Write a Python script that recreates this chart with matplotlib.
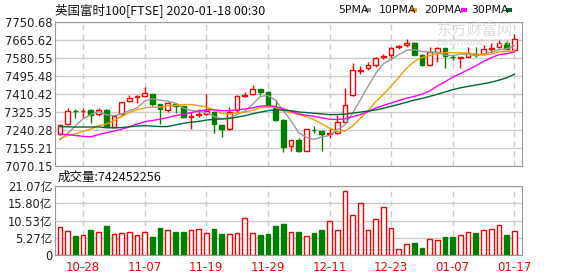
"""
FTSE 100 daily K-line with moving averages and volume
"""

import matplotlib
matplotlib.use('Agg')
import matplotlib.pyplot as plt
from matplotlib.patches import Rectangle
import numpy as np

plt.rcParams['font.family'] = ['DejaVu Sans', 'Noto Sans CJK SC']

# closes before the visible window (used for moving averages)
pre_close = [7344, 7367, 7321, 7320, 7314, 7356, 7345, 7326, 7291, 7290,
             7351, 7426, 7408, 7360, 7122, 7077, 7155, 7197, 7143, 7166,
             7186, 7247, 7213, 7212, 7168, 7182, 7150, 7163, 7212]

opens = [7220, 7267, 7331, 7330, 7335, 7314, 7335, 7256, 7314, 7377,
         7398, 7402, 7410, 7363, 7335, 7363, 7354, 7304, 7313, 7316,
         7327, 7264, 7243, 7335, 7403, 7409, 7434, 7422, 7346, 7288,
         7165, 7193, 7143, 7242, 7237, 7223, 7225, 7280, 7406, 7521,
         7533, 7549, 7586, 7593, 7634, 7640, 7653, 7596, 7549, 7609,
         7628, 7587, 7582, 7585, 7598, 7598, 7625, 7631, 7651, 7620]
highs = [7268, 7343, 7338, 7343, 7338, 7343, 7338, 7311, 7374, 7406,
         7406, 7442, 7412, 7365, 7374, 7366, 7356, 7327, 7338, 7410,
         7330, 7265, 7351, 7406, 7422, 7453, 7436, 7425, 7382, 7290,
         7195, 7201, 7246, 7259, 7240, 7248, 7311, 7437, 7558, 7542,
         7562, 7585, 7601, 7633, 7640, 7669, 7655, 7598, 7633, 7633,
         7630, 7596, 7586, 7633, 7633, 7640, 7653, 7664, 7664, 7696]
lows = [7215, 7265, 7296, 7299, 7272, 7308, 7253, 7253, 7308, 7374,
        7370, 7400, 7354, 7267, 7327, 7319, 7298, 7245, 7300, 7311,
        7225, 7209, 7241, 7327, 7395, 7406, 7406, 7351, 7284, 7138,
        7143, 7138, 7140, 7225, 7143, 7201, 7221, 7278, 7400, 7505,
        7522, 7538, 7577, 7573, 7625, 7633, 7594, 7541, 7545, 7562,
        7535, 7570, 7533, 7583, 7585, 7595, 7606, 7628, 7617, 7612]
closes = [7264, 7330, 7329, 7332, 7311, 7335, 7256, 7306, 7371, 7390,
          7402, 7414, 7363, 7338, 7366, 7354, 7300, 7307, 7316, 7332,
          7267, 7243, 7327, 7401, 7406, 7434, 7422, 7354, 7288, 7162,
          7193, 7143, 7243, 7240, 7220, 7226, 7277, 7358, 7524, 7525,
          7549, 7581, 7589, 7628, 7636, 7651, 7596, 7549, 7609, 7628,
          7588, 7585, 7585, 7604, 7596, 7622, 7628, 7651, 7622, 7669]
# volume in 亿 (1e8)
volumes = [8.45, 7.23, 5.80, 6.00, 7.64, 6.92, 8.86, 6.31, 6.62, 6.92,
           6.00, 6.92, 5.40, 8.14, 7.53, 7.02, 7.02, 7.53, 7.84, 6.62,
           7.94, 6.41, 6.41, 6.62, 11.20, 6.72, 6.11, 6.41, 8.86, 9.47,
           6.92, 7.02, 5.80, 6.72, 7.53, 10.28, 7.53, 19.44, 12.22, 15.78,
           7.53, 10.89, 14.56, 8.14, 1.73, 3.26, 3.66, 2.14, 4.78, 4.58,
           5.50, 5.50, 6.11, 7.02, 6.72, 7.53, 7.84, 9.16, 6.11, 7.42]

date_ticks = {3: '10-28', 11: '11-07', 19: '11-19', 27: '11-29',
              35: '12-11', 43: '12-23', 51: '01-07', 59: '01-17'}
price_ticks = [7070.15, 7155.21, 7240.28, 7325.35, 7410.42, 7495.48,
               7580.55, 7665.62, 7750.68]
vol_ticks = [0, 5.27, 10.53, 15.80, 21.07]
vol_labels = ['0', '5.27亿', '10.53亿', '15.80亿', '21.07亿']

RED = '#ff0000'
GREEN = '#008000'
ma_colors = {5: '#9a9a9a', 10: '#f0a000', 20: '#ff00ff', 30: '#006633'}

W, H = 578, 276
fig = plt.figure(figsize=(W / 100, H / 100), dpi=100)
ax = fig.add_axes([55 / W, 1 - 166 / H, 467 / W, 144 / H])
axv = fig.add_axes([55 / W, 1 - 255 / H, 467 / W, 69 / H])

x = np.arange(len(closes))
o = np.array(opens, float)
c = np.array(closes, float)
up = c >= o

# candles
ax.vlines(x[up], np.array(lows)[up], np.array(highs)[up], color=RED, lw=1, zorder=2)
ax.vlines(x[~up], np.array(lows)[~up], np.array(highs)[~up], color=GREEN, lw=1, zorder=2)
body_lo = np.minimum(o, c)
body_h = np.maximum(np.abs(c - o), 1.5)
ax.bar(x[up], body_h[up], bottom=body_lo[up], width=0.62,
       facecolor='white', edgecolor=RED, lw=1, zorder=3)
ax.bar(x[~up], body_h[~up], bottom=body_lo[~up], width=0.62,
       facecolor=GREEN, edgecolor=GREEN, lw=1, zorder=3)

# moving averages
allc = np.array(pre_close + closes, float)
n0 = len(pre_close)
for n, col in ma_colors.items():
    ma = [allc[n0 + i - n + 1:n0 + i + 1].mean() for i in range(len(closes))]
    ax.plot(x, ma, color=col, lw=1, zorder=4)

# volume bars
axv.bar(x[up], np.array(volumes)[up], width=0.62, facecolor='white',
        edgecolor=RED, lw=1, zorder=3)
axv.bar(x[~up], np.array(volumes)[~up], width=0.62, facecolor=GREEN,
        edgecolor=GREEN, lw=1, zorder=3)

for a in (ax, axv):
    a.set_xlim(-0.65, 60.0)
    for s in a.spines.values():
        s.set_color('#999999')
    a.tick_params(length=0, labelsize=8.3, colors='#222222', pad=2)
    a.grid(axis='y', color='#cccccc', lw=1, zorder=0)
    for k in date_ticks:
        a.axvline(k, color='#cccccc', lw=1, ls=(0, (4, 3)), zorder=0)

ax.set_ylim(price_ticks[0], price_ticks[-1])
ax.set_yticks(price_ticks)
ax.set_yticklabels(['%.2f' % v for v in price_ticks])
ax.set_xticks([])

axv.set_ylim(0, 21.07)
axv.set_yticks(vol_ticks)
axv.set_yticklabels(vol_labels, family=['DejaVu Sans', 'Noto Sans CJK SC'])
axv.set_xticks(list(date_ticks.keys()))
axv.set_xticklabels(list(date_ticks.values()), color=RED, fontsize=8.5)
axv.tick_params(axis='x', pad=4)

# title, volume label
fig.text(55 / W, 1 - 10 / H, '英国富时100[FTSE] 2020-01-18 00:30', fontsize=9,
         va='center', ha='left', color='#111111',
         family=['Noto Sans CJK SC', 'DejaVu Sans'])
fig.text(58 / W, 1 - 177 / H, '成交量:742452256', fontsize=9,
         va='center', ha='left', color='#111111',
         family=['Noto Sans CJK SC', 'DejaVu Sans'])

# watermark
fig.text(475 / W, 1 - 30 / H, '东方财富网', fontsize=11, color='#dddddd',
         ha='center', va='center', family=['Noto Sans CJK SC'], zorder=1)
fig.text(475 / W, 1 - 42 / H, 'eastmoney.com', fontsize=7, color='#dddddd',
         ha='center', va='center', zorder=1)

# legend
legend_items = [(338, '5PMA', 365, 5), (379, '10PMA', 411, 10),
                (424, '20PMA', 461, 20), (471, '30PMA', 506, 30)]
for lx, label, sw, n in legend_items:
    fig.text(lx / W, 1 - 10 / H, label, fontsize=7.8, va='center', ha='left',
             color='#111111')
    fig.add_artist(Rectangle((sw / W, 1 - 11.5 / H), 6 / W, 3 / H,
                             transform=fig.transFigure, color=ma_colors[n], lw=0))

fig.savefig('out.png', dpi=100)
